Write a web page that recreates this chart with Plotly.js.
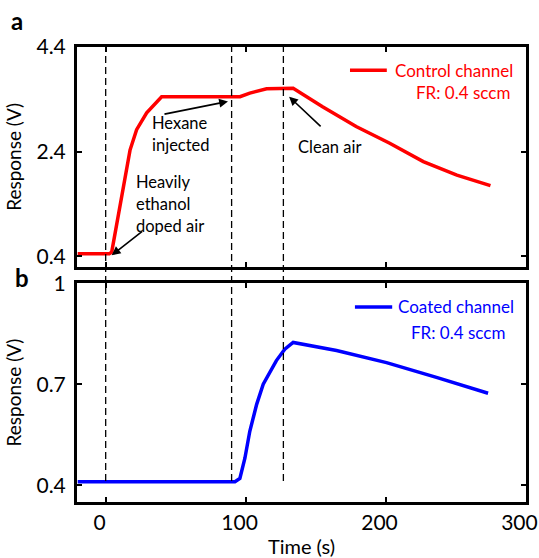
<!DOCTYPE html>
<html>
<head>
<meta charset="utf-8">
<script src="https://cdn.plot.ly/plotly-3.0.1.min.js"></script>
<style>html,body{margin:0;padding:0;background:#fff;}#chart{width:539px;height:558px;}</style>
</head>
<body>
<div id="chart"></div>
<script>
// Panel a: control channel
const tControl = [-20, 2.6, 4.3, 6.6, 10.2, 13.8, 17.4, 22.1, 29.3, 40, 96, 103, 115, 134, 155, 179, 203, 227, 251, 275];
const vControl = [0.45, 0.45, 0.48, 0.84, 1.35, 1.92, 2.43, 2.82, 3.14, 3.45, 3.45, 3.52, 3.6, 3.61, 3.26, 2.88, 2.56, 2.21, 1.95, 1.75];
// Panel b: coated channel
const tCoated = [-20, 92.4, 95.9, 99.5, 103, 107.9, 112.6, 117.4, 122, 128, 134, 165, 200.7, 236.4, 273.3];
const vCoated = [0.41, 0.41, 0.42, 0.48, 0.56, 0.64, 0.70, 0.735, 0.77, 0.804, 0.824, 0.80, 0.764, 0.72, 0.673];
// Event times (dashed markers)
const eventTimes = [0, 90, 127];
// Labels
const seriesNames = ['Control channel', 'Coated channel'];
const flowRate = 'FR: 0.4 sccm';
const xTicks = [0, 100, 200, 300];
const xTickText = ['0', '100', '200', '300'];
const yTicksA = [0.4, 2.4, 4.4];
const yTickTextA = ['0.4', '2.4', '4.4'];
const yTicksB = [0.4, 0.7, 1];
const yTickTextB = ['0.4', '0.7', '1'];

const FONT = 'Lato, "Open Sans", sans-serif';
const RED = '#ff0000', BLUE = '#0000ff';

const traces = [
  {x: tControl, y: vControl, xaxis: 'x2', yaxis: 'y2', mode: 'lines', name: seriesNames[0],
   line: {color: RED, width: 3.5}, showlegend: false},
  {x: tCoated, y: vCoated, xaxis: 'x', yaxis: 'y', mode: 'lines', name: seriesNames[1],
   line: {color: BLUE, width: 3.5}, showlegend: false}
];

const axCommon = {
  showgrid: false, zeroline: false, showline: true, linecolor: '#000', linewidth: 3,
  mirror: 'ticks', ticks: 'inside', ticklen: 5, tickwidth: 2, tickcolor: '#000',
  ticklabeloverflow: 'allow',
  tickfont: {family: FONT, size: 21, color: '#000'}
};

const shapes = [];
eventTimes.forEach(t => shapes.push({
  type: 'line', xref: 'x', yref: 'paper', x0: t, x1: t, y0: 0.046, y1: 1,
  line: {color: '#000', width: 1.3, dash: '7px,4px'}, layer: 'above'
}));
// legend line samples
shapes.push({type: 'line', xref: 'paper', yref: 'paper', x0: 0.608, x1: 0.690, y0: 0.949, y1: 0.949, line: {color: RED, width: 3.5}});
shapes.push({type: 'line', xref: 'paper', yref: 'paper', x0: 0.619, x1: 0.702, y0: 0.4286, y1: 0.4286, line: {color: BLUE, width: 3.5}});

const txt = (text, x, y, size, color, extra) => Object.assign({
  text: text, xref: 'paper', yref: 'paper', x: x, y: y, xanchor: 'left', yanchor: 'middle',
  showarrow: false, font: {family: FONT, size: size, color: color}
}, extra || {});

const arrow = (x, y, ax, ay) => ({
  text: '', xref: 'x2', yref: 'y2', x: x, y: y, ax: ax, ay: ay, axref: 'pixel', ayref: 'pixel',
  showarrow: true, arrowhead: 2, arrowsize: 1.1, arrowwidth: 1.6, arrowcolor: '#000'
});

const A = 16.5;
const annotations = [
  txt(seriesNames[0], 0.704, 0.949, 17, RED),
  txt(flowRate, 0.751, 0.899, 17, RED),
  txt(seriesNames[1], 0.711, 0.4286, 17, BLUE),
  txt(flowRate, 0.740, 0.3736, 17, BLUE),
  txt('Hexane', 0.163, (502 - 123) / 455, A, '#000'),
  txt('injected', 0.163, (502 - 145) / 455, A, '#000'),
  txt('Heavily', 0.127, (502 - 182) / 455, A, '#000'),
  txt('ethanol', 0.127, (502 - 204) / 455, A, '#000'),
  txt('doped air', 0.127, (502 - 226) / 455, A, '#000'),
  txt('Clean air', 0.487, (502 - 147) / 455, A, '#000'),
  txt('<b>a</b>', -0.152, (502 - 21) / 455, 24, '#000'),
  txt('<b>b</b>', -0.142, (502 - 277) / 455, 24, '#000'),
  arrow(87.4, 3.36, -65, 13),
  arrow(4.3, 0.42, 32, -25),
  arrow(131.1, 3.45, 33, 31)
];

const layout = {
  width: 539, height: 558,
  margin: {l: 77, r: 13, t: 47, b: 56},
  paper_bgcolor: '#fff', plot_bgcolor: '#fff',
  font: {family: FONT, color: '#000'},
  showlegend: false,
  xaxis: Object.assign({}, axCommon, {anchor: 'y', range: [-20.5, 300.4], tickvals: xTicks, ticktext: xTickText,
    ticklabelshift: -6,
    title: {text: 'Time (s)', font: {family: FONT, size: 20, color: '#000'}, standoff: 8}}),
  xaxis2: Object.assign({}, axCommon, {anchor: 'y2', matches: 'x', range: [-20.5, 300.4], tickvals: xTicks, showticklabels: false}),
  yaxis: Object.assign({}, axCommon, {domain: [0, 0.481], range: [0.35, 1.0], tickvals: yTicksB, ticktext: yTickTextB,
    ticklabelstandoff: 4,
    title: {text: 'Response (V)', font: {family: FONT, size: 19, color: '#000'}, standoff: 10}}),
  yaxis2: Object.assign({}, axCommon, {domain: [0.517, 1], range: [0.2, 4.4], tickvals: yTicksA, ticktext: yTickTextA,
    ticklabelstandoff: 4,
    title: {text: 'Response (V)', font: {family: FONT, size: 19, color: '#000'}, standoff: 10}}),
  shapes: shapes,
  annotations: annotations
};

Plotly.newPlot('chart', traces, layout, {displayModeBar: false, staticPlot: true});
</script>
</body>
</html>
